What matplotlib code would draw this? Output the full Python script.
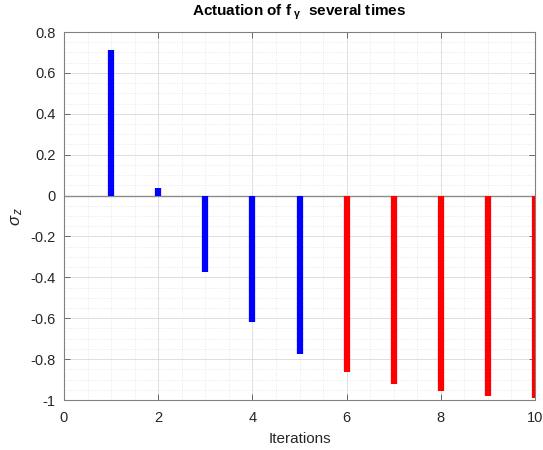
import matplotlib
matplotlib.use("Agg")
import matplotlib.pyplot as plt
from matplotlib.ticker import MultipleLocator

iterations = [1, 2, 3, 4, 5, 6, 7, 8, 9, 10]
sigma_z = [0.71, 0.035, -0.372, -0.62, -0.773, -0.865, -0.922, -0.955, -0.978, -0.99]
colors = ["blue"] * 5 + ["red"] * 5

plt.rcParams["font.family"] = ["Liberation Sans", "DejaVu Sans"]
plt.rcParams["mathtext.fontset"] = "custom"
plt.rcParams["mathtext.rm"] = "Liberation Sans"
plt.rcParams["mathtext.it"] = "Liberation Sans:italic"

fig = plt.figure(figsize=(5.43, 4.5), dpi=100)
ax = fig.add_axes([64 / 543, 50 / 450, (535 - 64) / 543, (400 - 32) / 450])

for x, y, c in zip(iterations, sigma_z, colors):
    ax.vlines(x, 0, y, colors=c, linewidth=4.5, zorder=3)

ax.axhline(0, color="#8c8c8c", linewidth=1.0, zorder=2)

ax.set_xlim(0, 10)
ax.set_ylim(-1, 0.8)
ax.xaxis.set_major_locator(MultipleLocator(2))
ax.xaxis.set_minor_locator(MultipleLocator(0.5))
ax.yaxis.set_major_locator(MultipleLocator(0.2))
ax.yaxis.set_minor_locator(MultipleLocator(0.05))
ax.set_yticks([0.8, 0.6, 0.4, 0.2, 0, -0.2, -0.4, -0.6, -0.8, -1])
ax.set_yticklabels(["0.8", "0.6", "0.4", "0.2", "0", "-0.2", "-0.4", "-0.6", "-0.8", "-1"])

ax.grid(which="major", color="#d9d9d9", linestyle="-", linewidth=0.6)
ax.grid(which="minor", color="#e3e3e3", linestyle=":", linewidth=0.6)
ax.set_axisbelow(True)

for s in ax.spines.values():
    s.set_color("#808080")
    s.set_linewidth(0.8)
ax.tick_params(which="major", direction="in", length=4, top=True, right=True,
               labelsize=10.5, colors="#555555", labelcolor="#262626", width=0.6)
ax.tick_params(axis="x", which="major", pad=8)
ax.tick_params(axis="y", which="major", pad=6)
ax.tick_params(which="minor", length=0)

ax.set_xlabel("Iterations", fontsize=11, color="#262626", labelpad=5)
ax.set_ylabel(r"$\sigma_{\,z}$", fontsize=12, color="#262626", labelpad=4)
ax.set_title(r"Actuation of f$_{\ \mathregular{\gamma}}\ $ several times", fontsize=11,
             fontweight="bold", color="black", pad=12)

fig.savefig("out.png", dpi=100)
